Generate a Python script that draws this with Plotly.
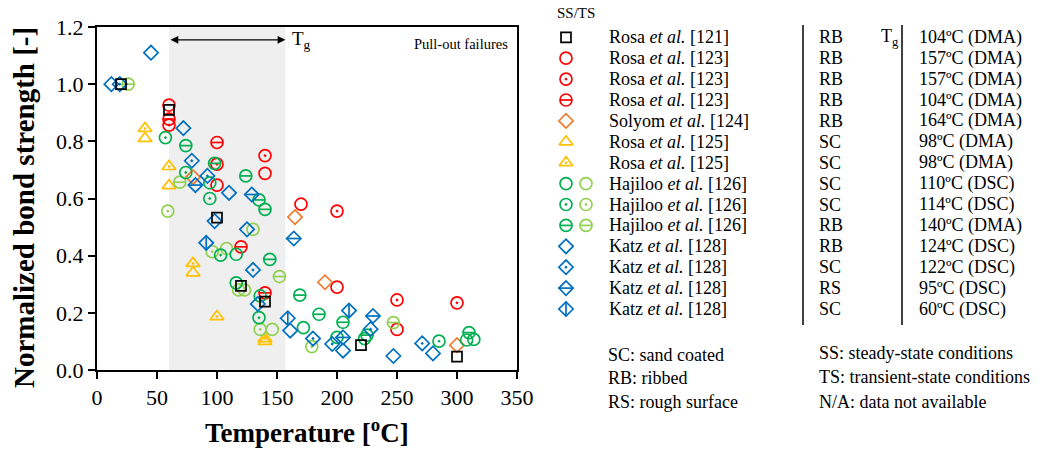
import plotly.graph_objects as go

# ---------------- data (temperature [ºC], normalized bond strength) ----------------
rosa121_x = [20, 60, 100, 120, 140, 220, 300]
rosa121_y = [1.0, 0.91, 0.533, 0.294, 0.239, 0.087, 0.047]

rosa123a_x = [60, 100, 140, 170, 200, 250]
rosa123a_y = [0.927, 0.647, 0.688, 0.58, 0.29, 0.142]
rosa123b_x = [60, 100, 140, 200, 250, 300]
rosa123b_y = [0.857, 0.72, 0.75, 0.556, 0.245, 0.235]
rosa123c_x = [60, 100, 120, 140]
rosa123c_y = [0.878, 0.796, 0.431, 0.27]

solyom_x = [80, 165, 190, 300]
solyom_y = [0.675, 0.535, 0.307, 0.087]

rosa125a_x = [40, 60, 80, 140]
rosa125a_y = [0.81, 0.645, 0.34, 0.10]
rosa125b_x = [40, 60, 80, 100, 140]
rosa125b_y = [0.845, 0.712, 0.373, 0.187, 0.11]

haj_a_dark_x = [94, 116, 116, 136, 172, 223, 308, 314]
haj_a_dark_y = [0.655, 0.405, 0.305, 0.259, 0.148, 0.11, 0.105, 0.107]
haj_a_light_x = [108, 118, 123, 130, 146]
haj_a_light_y = [0.425, 0.28, 0.28, 0.492, 0.142]
haj_b_dark_x = [57, 74, 94, 103, 135, 200, 285]
haj_b_dark_y = [0.813, 0.691, 0.60, 0.402, 0.183, 0.114, 0.101]
haj_b_light_x = [59, 96, 136, 179]
haj_b_light_y = [0.556, 0.414, 0.142, 0.082]
haj_c_dark_x = [74, 98, 124, 135, 140, 144, 169, 185, 205, 225, 310]
haj_c_dark_y = [0.785, 0.723, 0.679, 0.595, 0.562, 0.387, 0.262, 0.195, 0.167, 0.122, 0.131]
haj_c_light_x = [26, 69, 152, 247]
haj_c_light_y = [1.0, 0.657, 0.327, 0.166]

katz_a_x = [12, 45, 72, 98, 110, 125, 134, 161, 205, 247, 280]
katz_a_y = [1.0, 1.11, 0.846, 0.521, 0.62, 0.492, 0.231, 0.138, 0.068, 0.049, 0.058]
katz_b_x = [19, 79, 92, 130, 180, 196, 228, 271]
katz_b_y = [1.0, 0.732, 0.679, 0.35, 0.11, 0.091, 0.143, 0.093]
katz_c_x = [82, 129, 164, 205, 230]
katz_c_y = [0.647, 0.614, 0.46, 0.114, 0.189]
katz_d_x = [91, 159, 210]
katz_d_y = [0.445, 0.181, 0.208]

x_ticks = [0, 50, 100, 150, 200, 250, 300, 350]
y_ticks = [0.0, 0.2, 0.4, 0.6, 0.8, 1.0, 1.2]
tg_range = [60, 157]

legend_names = ["Rosa <i>et al.</i> [121]", "Rosa <i>et al.</i> [123]", "Rosa <i>et al.</i> [123]",
                "Rosa <i>et al.</i> [123]", "Solyom <i>et al.</i> [124]", "Rosa <i>et al.</i> [125]",
                "Rosa <i>et al.</i> [125]", "Hajiloo <i>et al.</i> [126]", "Hajiloo <i>et al.</i> [126]",
                "Hajiloo <i>et al.</i> [126]", "Katz <i>et al.</i> [128]", "Katz <i>et al.</i> [128]",
                "Katz <i>et al.</i> [128]", "Katz <i>et al.</i> [128]"]
legend_surface = ["RB", "RB", "RB", "RB", "RB", "SC", "SC", "SC", "SC", "RB", "RB", "SC", "RS", "SC"]
legend_tg = ["104ºC (DMA)", "157ºC (DMA)", "157ºC (DMA)", "104ºC (DMA)", "164ºC (DMA)",
             "98ºC (DMA)", "98ºC (DMA)", "110ºC (DSC)", "114ºC (DSC)", "140ºC (DMA)",
             "124ºC (DSC)", "122ºC (DSC)", "95ºC (DSC)", "60ºC (DSC)"]

RED = "#FF0000"; ORANGE = "#ED7D31"; YELLOW = "#FFC000"
DGREEN = "#00B050"; LGREEN = "#92D050"; BLUE = "#0070C0"; BLACK = "#000000"

# style per series: (x, y, color, symbol, overlay, legend row, legend column)
# listed in drawing order (bottom to top)
series = [
    (rosa123a_x, rosa123a_y, RED, "circle-open", None, 1, 0),
    (rosa123b_x, rosa123b_y, RED, "circle-open-dot", None, 2, 0),
    (rosa123c_x, rosa123c_y, RED, "circle-open", "line-ew", 3, 0),
    (solyom_x, solyom_y, ORANGE, "diamond-open", None, 4, 0),
    (rosa125a_x, rosa125a_y, YELLOW, "triangle-up-open", None, 5, 0),
    (rosa125b_x, rosa125b_y, YELLOW, "triangle-up-open-dot", None, 6, 0),
    (haj_a_light_x, haj_a_light_y, LGREEN, "circle-open", None, 7, 1),
    (haj_b_light_x, haj_b_light_y, LGREEN, "circle-open-dot", None, 8, 1),
    (haj_c_light_x, haj_c_light_y, LGREEN, "circle-open", "line-ew", 9, 1),
    (haj_a_dark_x, haj_a_dark_y, DGREEN, "circle-open", None, 7, 0),
    (haj_b_dark_x, haj_b_dark_y, DGREEN, "circle-open-dot", None, 8, 0),
    (haj_c_dark_x, haj_c_dark_y, DGREEN, "circle-open", "line-ew", 9, 0),
    (katz_a_x, katz_a_y, BLUE, "diamond-open", None, 10, 0),
    (katz_b_x, katz_b_y, BLUE, "diamond-open-dot", None, 11, 0),
    (katz_c_x, katz_c_y, BLUE, "diamond-open", "line-ew", 12, 0),
    (katz_d_x, katz_d_y, BLUE, "diamond-open", "line-ns", 13, 0),
    (rosa121_x, rosa121_y, BLACK, "square-open", None, 0, 0),
]

SIZES = {"square": 10, "circle": 12, "diamond": 11, "triangle": 12}
LW = 1.7
FONT = "Liberation Serif"

def base_size(sym):
    for k, v in SIZES.items():
        if sym.startswith(k):
            return v
    return 11

fig = go.Figure()

# legend layout (pixel-based overlay axes)
ROW0 = 37.3
ROWH = 20.9
COLX = [566, 586]

def add_markers(xs, ys, color, sym, overlay, xa="x", ya="y"):
    s = base_size(sym)
    fig.add_trace(go.Scatter(x=xs, y=ys, mode="markers", xaxis=xa, yaxis=ya, showlegend=False,
                             cliponaxis=False, hoverinfo="skip",
                             marker=dict(symbol=sym, size=s, color=color,
                                         line=dict(color=color, width=LW))))
    if overlay:
        # plotly line markers extend 1.4*r, diamonds extend 1.3*r
        osz = s * (1.3 if sym.startswith("diamond") else 1.0) / 1.4
        fig.add_trace(go.Scatter(x=xs, y=ys, mode="markers", xaxis=xa, yaxis=ya, showlegend=False,
                                 cliponaxis=False, hoverinfo="skip",
                                 marker=dict(symbol=overlay + "-open", size=osz, color=color,
                                             line=dict(color=color, width=LW))))

for xs, ys, color, sym, overlay, row, col in series:
    add_markers(xs, ys, color, sym, overlay)

# legend markers
for xs, ys, color, sym, overlay, row, col in series:
    add_markers([COLX[col]], [ROW0 + ROWH * row], color, sym, overlay, "x2", "y2")

W, H = 1042, 450
PL, PR, PT, PB = 97, 517, 27, 370

fig.update_layout(
    width=W, height=H,
    margin=dict(l=0, r=0, t=0, b=0),
    paper_bgcolor="white", plot_bgcolor="rgba(0,0,0,0)",
    font=dict(family=FONT, color="black"),
    xaxis=dict(domain=[PL / W, PR / W], range=[0, 350], tickvals=x_ticks,
               ticks="outside", ticklen=7, tickwidth=1.5, tickcolor="black",
               showline=True, linecolor="black", linewidth=2, mirror=True,
               showgrid=False, zeroline=False, tickfont=dict(size=22, family=FONT),
               automargin=False, anchor="y"),
    yaxis=dict(domain=[(H - PB) / H, (H - PT) / H], range=[0, 1.2], tickvals=y_ticks,
               tickformat=".1f", ticks="outside", ticklen=7, tickwidth=1.5, tickcolor="black",
               showline=True, linecolor="black", linewidth=2, mirror=True,
               showgrid=False, zeroline=False, tickfont=dict(size=22, family=FONT),
               automargin=False, anchor="x"),
    xaxis2=dict(domain=[0, 1], range=[0, W], visible=False, anchor="y2", fixedrange=True),
    yaxis2=dict(domain=[0, 1], range=[H, 0], visible=False, anchor="x2", fixedrange=True),
    showlegend=False,
)

# Tg shaded band
fig.add_shape(type="rect", xref="x", yref="y", x0=tg_range[0], x1=tg_range[1], y0=0, y1=1.2,
              fillcolor="#EFEFEF", line=dict(width=0), layer="below")

def F(size):
    return dict(size=size, family=FONT, color="black")

ann = []
# double arrow over Tg band
ann.append(dict(xref="x", yref="y", axref="x", ayref="y", x=tg_range[1], y=1.155,
                ax=tg_range[0], ay=1.155, showarrow=True, arrowhead=2, arrowsize=1.2,
                arrowwidth=1.3, arrowside="end+start", arrowcolor="black", text=""))
ann.append(dict(xref="x", yref="y", x=tg_range[1] + 4, y=1.155, text="T<sub>g</sub>",
                showarrow=False, xanchor="left", yanchor="middle", font=F(19)))
ann.append(dict(xref="x", yref="y", x=344, y=1.14, text="Pull-out failures",
                showarrow=False, xanchor="right", yanchor="middle", font=F(14.5)))

# axis titles
ann.append(dict(xref="paper", yref="paper", x=24 / W, y=(H - 208) / H,
                text="<b>Normalized bond strength [-]</b>", textangle=-90, showarrow=False,
                xanchor="center", yanchor="middle", font=F(29)))
ann.append(dict(xref="paper", yref="paper", x=307 / W, y=(H - 431) / H,
                text="<b>Temperature [<sup>o</sup>C]</b>", showarrow=False,
                xanchor="center", yanchor="middle", font=F(27)))

# legend table texts
LFS = 18
ann.append(dict(xref="x2", yref="y2", x=555, y=12.5, text="SS/TS", showarrow=False,
                xanchor="left", yanchor="middle", font=F(15)))
ann.append(dict(xref="x2", yref="y2", x=879, y=ROW0, text="T<sub>g</sub>", showarrow=False,
                xanchor="left", yanchor="middle", font=F(LFS)))
for i, (nm, sf, tg) in enumerate(zip(legend_names, legend_surface, legend_tg)):
    yy = ROW0 + ROWH * i
    ann.append(dict(xref="x2", yref="y2", x=607, y=yy, text=nm, showarrow=False,
                    xanchor="left", yanchor="middle", font=F(LFS)))
    ann.append(dict(xref="x2", yref="y2", x=817, y=yy, text=sf, showarrow=False,
                    xanchor="left", yanchor="middle", font=F(LFS)))
    ann.append(dict(xref="x2", yref="y2", x=917, y=yy, text=tg, showarrow=False,
                    xanchor="left", yanchor="middle", font=F(LFS)))

notes_left = ["SC: sand coated", "RB: ribbed", "RS: rough surface"]
notes_right = ["SS: steady-state conditions", "TS: transient-state conditions", "N/A: data not available"]
for i, t in enumerate(notes_left):
    ann.append(dict(xref="x2", yref="y2", x=606, y=355 + 23.3 * i, text=t, showarrow=False,
                    xanchor="left", yanchor="middle", font=F(LFS)))
for i, t in enumerate(notes_right):
    ann.append(dict(xref="x2", yref="y2", x=817, y=353 + 24.3 * i, text=t, showarrow=False,
                    xanchor="left", yanchor="middle", font=F(LFS)))

fig.update_layout(annotations=ann)

for xv in (803, 902):
    fig.add_shape(type="line", xref="x2", yref="y2", x0=xv, x1=xv, y0=25, y1=325,
                  line=dict(color="black", width=1.5))

fig.write_html("out.html", config={"displayModeBar": False},
               post_script="document.body.style.margin='0';document.body.style.padding='0';")
